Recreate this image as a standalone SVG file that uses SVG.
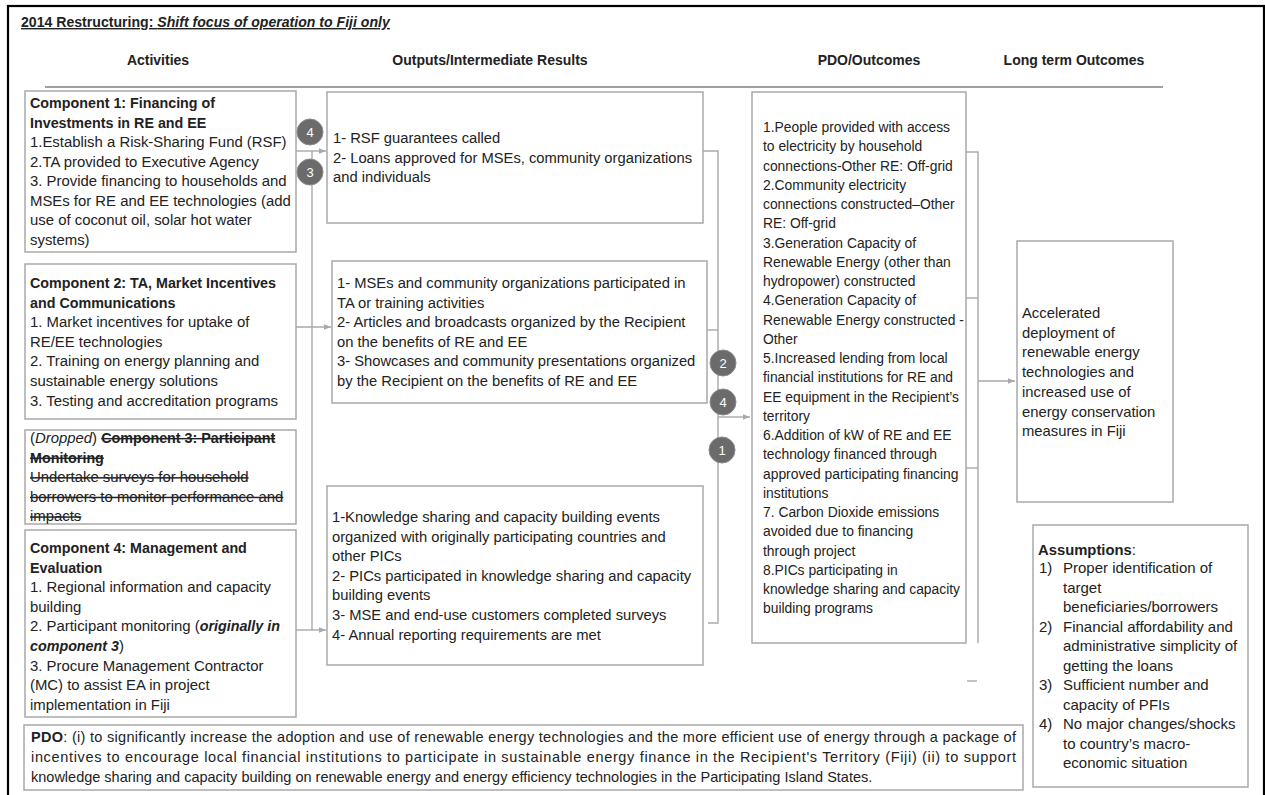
<svg xmlns="http://www.w3.org/2000/svg" width="1265" height="795" viewBox="0 0 1265 795">
<style>
text{font-family:"Liberation Sans",Arial,sans-serif;fill:#222;font-size:14.3px}
.l{font-size:14.9px}
.o{font-size:14.75px}
.p{font-size:13.85px}
.lt{font-size:14.8px}
.as{font-size:15px}
.b{font-weight:bold;font-size:14.3px}
.h{font-weight:bold;font-size:14px}
.box{fill:#fff;stroke:#a9a9a9;stroke-width:1.5}
.con{fill:none;stroke:#a9a9a9;stroke-width:1.4}
.badge circle{fill:#6b6b6b;stroke:#8a8a8a;stroke-width:1}
.badge text{fill:#fff;font-size:13px;text-anchor:middle}
.st{text-decoration:line-through}
</style>
<defs>
<marker id="ah" viewBox="0 0 10 10" refX="10" refY="5" markerWidth="7" markerHeight="7" markerUnits="userSpaceOnUse" orient="auto">
<path d="M0,1 L10,5 L0,9 z" fill="#a9a9a9"/>
</marker>
</defs>
<rect x="0" y="0" width="1265" height="795" fill="#fff"/>
<rect x="8" y="6" width="1256" height="800" fill="none" stroke="#000" stroke-width="2.2"/>
<text x="21" y="27" style="font-weight:bold;font-size:14.1px;text-decoration:underline">2014 Restructuring: <tspan font-style="italic">Shift focus of operation to Fiji only</tspan></text>
<g id="headers">
<text x="158" y="65" class="h" text-anchor="middle">Activities</text>
<text x="490" y="65" class="h" text-anchor="middle">Outputs/Intermediate Results</text>
<text x="869" y="65" class="h" text-anchor="middle">PDO/Outcomes</text>
<text x="1074" y="65" class="h" text-anchor="middle">Long term Outcomes</text>
<line x1="45" y1="87" x2="1163" y2="87" stroke="#a0a0a0" stroke-width="2.2"/>
</g>
<g id="connectors">
<line class="con" x1="296" y1="151" x2="326" y2="151" marker-end="url(#ah)"/>
<line class="con" x1="312" y1="151" x2="312" y2="630"/>
<line class="con" x1="296" y1="327" x2="331" y2="327" marker-end="url(#ah)"/>
<line class="con" x1="296" y1="630" x2="326" y2="630" marker-end="url(#ah)"/>
<polyline class="con" points="703,151 718,151 718,623 708,623"/>
<line class="con" x1="707" y1="330" x2="718" y2="330"/>
<line class="con" x1="718" y1="417" x2="750" y2="417" marker-end="url(#ah)"/>
<polyline class="con" points="966,152 978,152 978,643"/>
<line class="con" x1="966" y1="298" x2="978" y2="298"/>
<line class="con" x1="966" y1="468" x2="978" y2="468"/>
<line class="con" x1="978" y1="381" x2="1015" y2="381" marker-end="url(#ah)"/>
<line class="con" x1="967" y1="681" x2="977" y2="681"/>
</g>
<g id="comp1">
<rect class="box" x="25" y="91" width="271" height="161"/>
<text x="30" y="108" class="l"><tspan class="b">Component 1: Financing of</tspan><tspan class="b" x="30" dy="19.5">Investments in RE and EE</tspan><tspan x="30" dy="19.5">1.Establish a Risk-Sharing Fund (RSF)</tspan><tspan x="30" dy="19.5">2.TA provided to Executive Agency</tspan><tspan x="30" dy="19.5">3. Provide financing to households and</tspan><tspan x="30" dy="19.5">MSEs for RE and EE technologies (add</tspan><tspan x="30" dy="19.5">use of coconut oil, solar hot water</tspan><tspan x="30" dy="19.5">systems)</tspan></text>
</g>
<g id="comp2">
<rect class="box" x="25" y="264" width="271" height="155"/>
<text x="30" y="288" class="l"><tspan class="b">Component 2: TA, Market Incentives</tspan><tspan class="b" x="30" dy="19.6">and Communications</tspan><tspan x="30" dy="19.6">1. Market incentives for uptake of</tspan><tspan x="30" dy="19.6">RE/EE technologies</tspan><tspan x="30" dy="19.6">2. Training on energy planning and</tspan><tspan x="30" dy="19.6">sustainable energy solutions</tspan><tspan x="30" dy="19.6">3. Testing and accreditation programs</tspan></text>
</g>
<g id="comp3">
<rect class="box" x="25" y="430" width="271" height="94"/>
<text x="30" y="443" class="l">(<tspan font-style="italic">Dropped</tspan>) <tspan class="b st">Component 3: Participant</tspan><tspan class="b st" x="30" dy="19.6">Monitoring</tspan><tspan class="st" x="30" dy="19.6">Undertake surveys for household</tspan><tspan class="st" x="30" dy="19.6">borrowers to monitor performance and</tspan><tspan class="st" x="30" dy="19.6">impacts</tspan></text>
</g>
<g id="comp4">
<rect class="box" x="25" y="530" width="271" height="187"/>
<text x="30" y="553" class="l"><tspan class="b">Component 4: Management and</tspan><tspan class="b" x="30" dy="19.6">Evaluation</tspan><tspan x="30" dy="19.6">1. Regional information and capacity</tspan><tspan x="30" dy="19.6">building</tspan><tspan x="30" dy="19.6">2. Participant monitoring (</tspan><tspan class="b" font-style="italic">originally in</tspan><tspan x="30" dy="19.6" class="b" font-style="italic">component 3</tspan><tspan>)</tspan><tspan x="30" dy="19.6">3. Procure Management Contractor</tspan><tspan x="30" dy="19.6">(MC) to assist EA in project</tspan><tspan x="30" dy="19.6">implementation in Fiji</tspan></text>
</g>
<g id="badges-left">
<g class="badge"><circle cx="310" cy="132" r="13"/><text x="310" y="137">4</text></g>
<g class="badge"><circle cx="310" cy="172" r="13"/><text x="310" y="177">3</text></g>
</g>
<g id="out1">
<rect class="box" x="327" y="92" width="376" height="131"/>
<text x="333" y="143" class="o">1- RSF guarantees called<tspan x="333" dy="19.5">2- Loans approved for MSEs, community organizations</tspan><tspan x="333" dy="19.5">and individuals</tspan></text>
</g>
<g id="out2">
<rect class="box" x="332" y="261" width="375" height="142"/>
<text x="337" y="288" class="o">1- MSEs and community organizations participated in<tspan x="337" dy="19.6">TA or training activities</tspan><tspan x="337" dy="19.6">2- Articles and broadcasts organized by the Recipient</tspan><tspan x="337" dy="19.6">on the benefits of RE and EE</tspan><tspan x="337" dy="19.6">3- Showcases and community presentations organized</tspan><tspan x="337" dy="19.6">by the Recipient on the benefits of RE and EE</tspan></text>
</g>
<g id="out3">
<rect class="box" x="327" y="486" width="376" height="179"/>
<text x="332" y="522" class="o">1-Knowledge sharing and capacity building events<tspan x="332" dy="19.6">organized with originally participating countries and</tspan><tspan x="332" dy="19.6">other PICs</tspan><tspan x="332" dy="19.6">2- PICs participated in knowledge sharing and capacity</tspan><tspan x="332" dy="19.6">building events</tspan><tspan x="332" dy="19.6">3- MSE and end-use customers completed surveys</tspan><tspan x="332" dy="19.6">4- Annual reporting requirements are met</tspan></text>
</g>
<g id="badges-right">
<g class="badge"><circle cx="723" cy="363" r="13"/><text x="723" y="368">2</text></g>
<g class="badge"><circle cx="723" cy="402" r="13"/><text x="723" y="407">4</text></g>
<g class="badge"><circle cx="722" cy="450" r="13"/><text x="722" y="455">1</text></g>
</g>
<g id="pdo-outcomes">
<rect class="box" x="752" y="92" width="214" height="551"/>
<text x="763" y="132" class="p">1.People provided with access<tspan x="763" dy="19.25">to electricity by household</tspan><tspan x="763" dy="19.25">connections-Other RE: Off-grid</tspan><tspan x="763" dy="19.25">2.Community electricity</tspan><tspan x="763" dy="19.25">connections constructed–Other</tspan><tspan x="763" dy="19.25">RE: Off-grid</tspan><tspan x="763" dy="19.25">3.Generation Capacity of</tspan><tspan x="763" dy="19.25">Renewable  Energy (other than</tspan><tspan x="763" dy="19.25">hydropower) constructed</tspan><tspan x="763" dy="19.25">4.Generation Capacity of</tspan><tspan x="763" dy="19.25">Renewable  Energy constructed -</tspan><tspan x="763" dy="19.25">Other</tspan><tspan x="763" dy="19.25">5.Increased lending from local</tspan><tspan x="763" dy="19.25">financial institutions for RE and</tspan><tspan x="763" dy="19.25">EE equipment in the Recipient’s</tspan><tspan x="763" dy="19.25">territory</tspan><tspan x="763" dy="19.25">6.Addition of kW of RE and EE</tspan><tspan x="763" dy="19.25">technology financed through</tspan><tspan x="763" dy="19.25">approved participating financing</tspan><tspan x="763" dy="19.25">institutions</tspan><tspan x="763" dy="19.25">7. Carbon Dioxide emissions</tspan><tspan x="763" dy="19.25">avoided due to financing</tspan><tspan x="763" dy="19.25">through project</tspan><tspan x="763" dy="19.25">8.PICs participating in</tspan><tspan x="763" dy="19.25">knowledge sharing and capacity</tspan><tspan x="763" dy="19.25">building programs</tspan></text>
</g>
<g id="long-term">
<rect class="box" x="1017" y="241" width="156" height="261"/>
<text x="1022" y="318" class="lt">Accelerated<tspan x="1022" dy="19.7">deployment of</tspan><tspan x="1022" dy="19.7">renewable energy</tspan><tspan x="1022" dy="19.7">technologies and</tspan><tspan x="1022" dy="19.7">increased use of</tspan><tspan x="1022" dy="19.7">energy conservation</tspan><tspan x="1022" dy="19.7">measures in Fiji</tspan></text>
</g>
<g id="assumptions">
<rect class="box" x="1033" y="525" width="215" height="262"/>
<text x="1038" y="555" class="as"><tspan class="b" style="font-size:14.8px">Assumptions</tspan>:</text>
<text x="1039" y="573" class="as">1)<tspan x="1063">Proper identification of</tspan><tspan x="1063" dy="19.5">target</tspan><tspan x="1063" dy="19.5">beneficiaries/borrowers</tspan><tspan x="1039" dy="19.5">2)</tspan><tspan x="1063">Financial affordability and</tspan><tspan x="1063" dy="19.5">administrative simplicity of</tspan><tspan x="1063" dy="19.5">getting the loans</tspan><tspan x="1039" dy="19.5">3)</tspan><tspan x="1063">Sufficient number and</tspan><tspan x="1063" dy="19.5">capacity of PFIs</tspan><tspan x="1039" dy="19.5">4)</tspan><tspan x="1063">No major changes/shocks</tspan><tspan x="1063" dy="19.5">to country’s macro-</tspan><tspan x="1063" dy="19.5">economic situation</tspan></text>
</g>
<g id="pdo-statement">
<rect class="box" x="24" y="725" width="999" height="65"/>
<text x="31" y="742" textLength="985" lengthAdjust="spacing" style="font-size:14.5px"><tspan class="b" style="font-size:14.5px">PDO</tspan>: (i) to significantly increase the adoption and use of renewable energy technologies and the more efficient use of energy through a package of</text>
<text x="31" y="762" textLength="985" lengthAdjust="spacing" style="font-size:14.5px">incentives to encourage local financial institutions to participate in sustainable energy finance in the Recipient's Territory (Fiji) (ii) to support</text>
<text x="31" y="782" style="font-size:14.5px">knowledge sharing and capacity building on renewable energy and energy efficiency technologies in the Participating Island States.</text>
</g>
</svg>
